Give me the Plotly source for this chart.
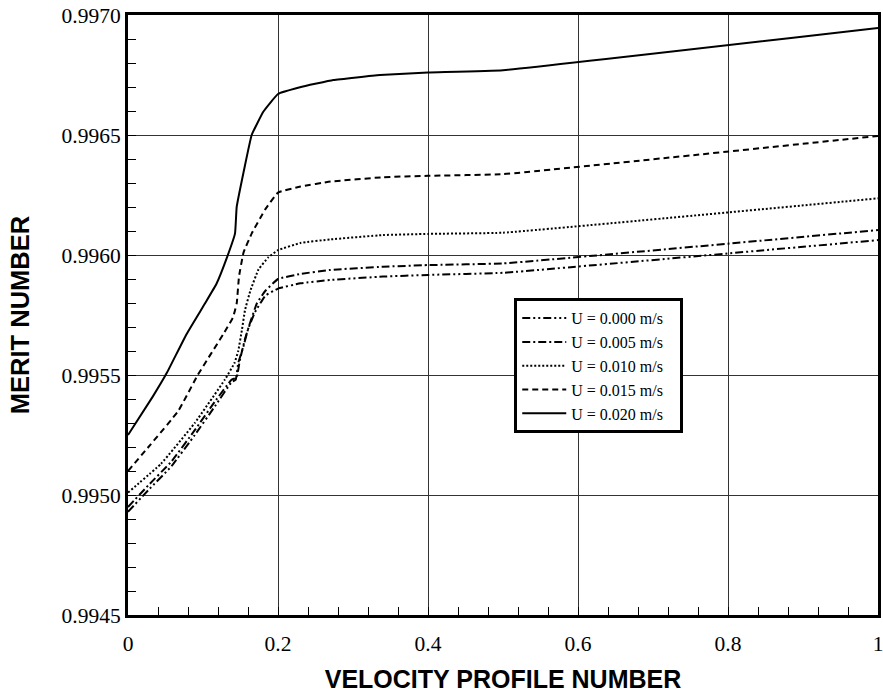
import plotly.graph_objects as go

# U = 0.000 m/s
x_u000 = [0.0, 0.027, 0.058, 0.089, 0.116, 0.138, 0.1436, 0.147, 0.154, 0.160, 0.169, 0.183, 0.2, 0.23, 0.27, 0.34, 0.4, 0.5, 1.0]
y_u000 = [0.99493, 0.99502, 0.99512, 0.99525, 0.99537, 0.99547, 0.99548, 0.99555, 0.99562, 0.99569, 0.99576, 0.99583, 0.99586, 0.995882, 0.995896, 0.99591, 0.995917, 0.995926, 0.996062]
# U = 0.005 m/s
x_u005 = [0.0, 0.027, 0.058, 0.089, 0.116, 0.138, 0.1449, 0.149, 0.156, 0.163, 0.172, 0.183, 0.2, 0.23, 0.27, 0.34, 0.4, 0.5, 1.0]
y_u005 = [0.99495, 0.99504, 0.99514, 0.99527, 0.99539, 0.99548, 0.99549, 0.99556, 0.99565, 0.99572, 0.99580, 0.99585, 0.99590, 0.995921, 0.995938, 0.995951, 0.995958, 0.995965, 0.996104]
# U = 0.010 m/s
x_u010 = [0.0, 0.044, 0.089, 0.129, 0.142, 0.147, 0.152, 0.156, 0.163, 0.174, 0.187, 0.2, 0.23, 0.27, 0.34, 0.4, 0.5, 1.0]
y_u010 = [0.99501, 0.99513, 0.99530, 0.99548, 0.99555, 0.99560, 0.99569, 0.99577, 0.99585, 0.99594, 0.99599, 0.99602, 0.99605, 0.996065, 0.996083, 0.996088, 0.996093, 0.996236]
# U = 0.015 m/s
x_u015 = [0.0, 0.03, 0.067, 0.093, 0.127, 0.140, 0.145, 0.148, 0.154, 0.165, 0.183, 0.2, 0.23, 0.27, 0.34, 0.4, 0.5, 1.0]
y_u015 = [0.99510, 0.99521, 0.99535, 0.99550, 0.99567, 0.99574, 0.99580, 0.99591, 0.99601, 0.99609, 0.99619, 0.99626, 0.996285, 0.996306, 0.996324, 0.99633, 0.996337, 0.996496]
# U = 0.020 m/s
x_u020 = [0.0, 0.033, 0.052, 0.078, 0.103, 0.118, 0.132, 0.1427, 0.1449, 0.1556, 0.1649, 0.1804, 0.2, 0.2293, 0.2738, 0.336, 0.4, 0.5, 1.0]
y_u020 = [0.99525, 0.99541, 0.99551, 0.99567, 0.99580, 0.99588, 0.99599, 0.99609, 0.99620, 0.996368, 0.99650, 0.996597, 0.996671, 0.996699, 0.996729, 0.99675, 0.99676, 0.99677, 0.996946]

names = ["U = 0.000 m/s", "U = 0.005 m/s", "U = 0.010 m/s", "U = 0.015 m/s", "U = 0.020 m/s"]
xs = [x_u000, x_u005, x_u010, x_u015, x_u020]
ys = [y_u000, y_u005, y_u010, y_u015, y_u020]
dashes = ["8px,3px,2px,3px,2px,3px", "8px,3px,2px,3px", "2px,2px", "6px,4px", "solid"]

fig = go.Figure()
for name, x, y, d in zip(names, xs, ys, dashes):
    fig.add_trace(go.Scatter(x=x, y=y, mode="lines", name=name + "&nbsp;&nbsp;&nbsp;",
                             line=dict(color="black", width=2, dash=d, shape="spline", smoothing=0.3)))

serif = "Liberation Serif, Times New Roman, serif"
sans = "Liberation Sans, Arial, sans-serif"

fig.update_layout(
    width=883, height=693,
    margin=dict(l=128, r=5, t=15, b=78),
    paper_bgcolor="white", plot_bgcolor="white",
    showlegend=True,
    legend=dict(x=0.515, y=0.528, xanchor="left", yanchor="top",
                bordercolor="black", borderwidth=3, bgcolor="white",
                itemwidth=44,
                font=dict(family=serif, size=16, color="black")),
    xaxis=dict(range=[0, 1], dtick=0.2, tick0=0, showgrid=True, gridcolor="#333333", gridwidth=1,
               showline=True, linecolor="black", linewidth=3, mirror=True, automargin=False,
               ticks="inside", ticklen=8, tickcolor="black", ticklabelstandoff=7,
               ticklabeloverflow="allow",
               minor=dict(dtick=0.04, ticks="inside", ticklen=8, tickcolor="black", showgrid=False),
               tickfont=dict(family=serif, size=21.5, color="black"),
               zeroline=False,
               title=dict(text="<b>VELOCITY PROFILE NUMBER</b>", font=dict(family=sans, size=25, color="black"), standoff=24)),
    yaxis=dict(range=[0.9945, 0.9970], dtick=0.0005, tick0=0.9945, showgrid=True, gridcolor="#333333", gridwidth=1,
               showline=True, linecolor="black", linewidth=3, mirror=True, automargin=False,
               ticks="inside", ticklen=8, tickcolor="black", tickformat=".4f",
               ticklabeloverflow="allow",
               minor=dict(dtick=0.0001, ticks="inside", ticklen=8, tickcolor="black", showgrid=False),
               tickfont=dict(family=serif, size=21.5, color="black"),
               zeroline=False,
               title=dict(text="<b>MERIT NUMBER</b>", font=dict(family=sans, size=25.5, color="black"), standoff=25)),
)

fig.write_html("out.html")
